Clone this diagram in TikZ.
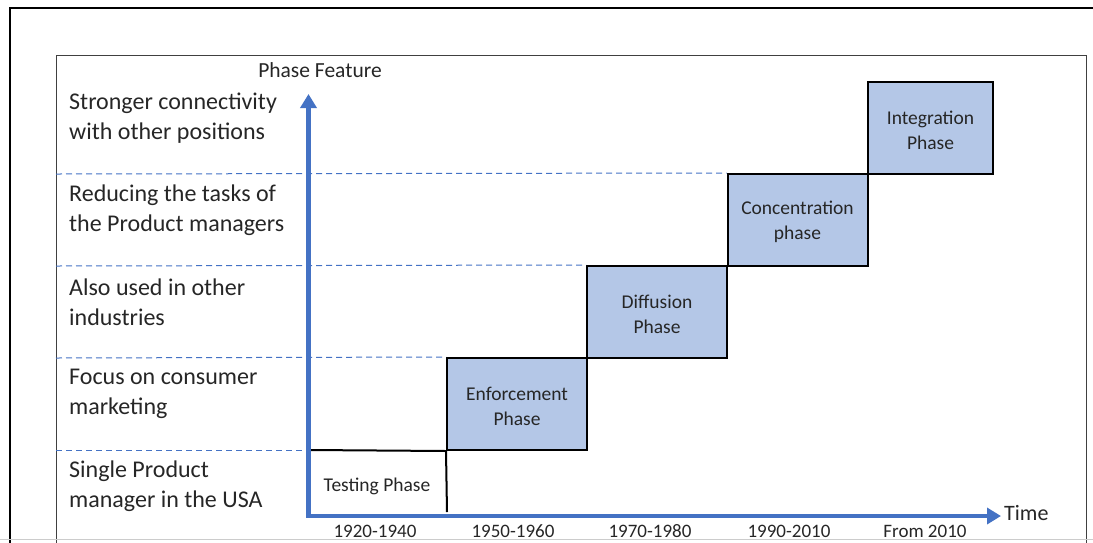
\documentclass[tikz,border=0pt]{standalone}
\usepackage{fontspec}
\setmainfont{Carlito}
\usetikzlibrary{arrows.meta}
\definecolor{axisblue}{HTML}{4472C4}
\definecolor{phasefill}{HTML}{B4C7E7}
\definecolor{frame}{HTML}{404040}
\begin{document}
\begin{tikzpicture}[x=1pt,y=-1pt,
  feature/.style={anchor=west,align=left,inner sep=0pt,text=black!85,
    font=\fontsize{24}{30}\selectfont},
  phasebox/.style={draw=black,line width=2pt,fill=phasefill,minimum width=140pt,
    minimum height=92pt,inner sep=0pt},
  phasetext/.style={align=center,inner sep=0pt,text=black!85,
    font=\fontsize{19.5}{25}\selectfont},
  yearlbl/.style={inner sep=0pt,text=black!85,font=\fontsize{19}{23}\selectfont},
  guide/.style={axisblue,line width=1pt,dash pattern=on 6pt off 4pt},
  axisline/.style={axisblue,line width=4.5pt,-{Triangle[length=14pt,width=16pt]}},
  stepline/.style={black,line width=2pt}]
\useasboundingbox (0,0) rectangle (1093,542);
% page frames
\draw[black,line width=2pt] (10,545) -- (10,8) -- (1095,8);
\draw[frame,line width=1pt] (56,545) -- (56,55) -- (1086,55) -- (1086,545);
\draw[black!20,line width=0.8pt] (0,539) -- (1093,539);

% level guides
\coordinate (g1) at (56,450);
\coordinate (g2) at (56,358);
\coordinate (g3) at (56,266);
\coordinate (g4) at (56,174);

% phase boxes
\node[phasebox] (enf) at (517,404) {};
\node[phasebox] (dif) at (657,312) {};
\node[phasebox] (con) at (797.5,220) {};
\node[phasebox,minimum width=125pt] (int) at (930.5,128) {};
\node[phasetext] (enft) at ([yshift=-2pt]enf.center) {Enforcement\\Phase};
\node[phasetext] (dift) at ([yshift=-2pt]dif.center) {Diffusion\\Phase};
\node[phasetext] (cont) at ([yshift=-2pt]con.center) {Concentration\\phase};
\node[phasetext] (intt) at ([yshift=-2pt]int.center) {Integration\\Phase};

\draw[guide] (g1) -- (308,450);
\draw[guide] (g2) -- (enf.north west);
\draw[guide] (g3) -- (dif.north west);
\draw[guide] (g4) -- (con.north west);

% testing phase step
\coordinate (tp) at (310,450);
\coordinate (tb) at (447,512);
\draw[stepline] (tp) -- (enf.south west) -- (tb);
\node[phasetext] (test) at (377,486) {Testing Phase};

% axes
\coordinate (origin) at (308.5,516);
\coordinate (ytip) at (308.5,94);
\coordinate (xtip) at (1001,516);
\draw[axisline] ([yshift=2.2pt]origin) -- (ytip);
\draw[axisline] ([xshift=-2.2pt]origin) -- (xtip);
\node[inner sep=0pt,text=black!85,font=\fontsize{21.5}{26}\selectfont] (pf) at (320,70) {Phase Feature};
\node[anchor=west,inner sep=0pt,text=black!85,font=\fontsize{22}{26}\selectfont] (time) at (1004,513) {Time};

% feature labels
\node[feature] (f5) at (69,118) {Stronger connectivity\\with other positions};
\node[feature] (f4) at (69,210) {Reducing the tasks of\\the Product managers};
\node[feature] (f3) at (69,302) {Also used in other\\industries};
\node[feature] (f2) at (69,394) {Focus on consumer\\marketing};
\node[feature] (f1) at (69,486) {Single Product\\manager in the USA};

% time periods
\node[yearlbl] (y1) at (375,531) {1920-1940};
\node[yearlbl] (y2) at (513,531) {1950-1960};
\node[yearlbl] (y3) at (650,531) {1970-1980};
\node[yearlbl] (y4) at (789,531) {1990-2010};
\node[yearlbl] (y5) at (925,531) {From 2010};
\end{tikzpicture}
\end{document}
